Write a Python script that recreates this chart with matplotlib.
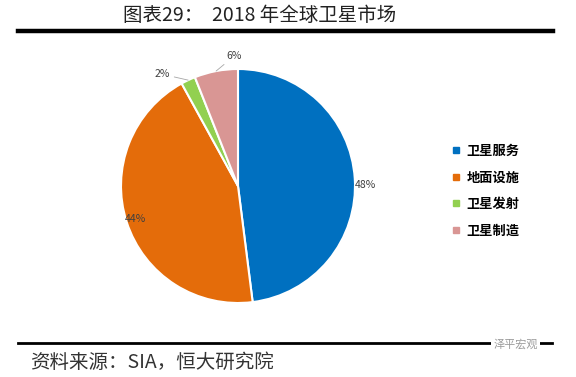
import matplotlib
matplotlib.use("Agg")
import matplotlib.pyplot as plt
import numpy as np

plt.rcParams["font.family"] = ["Noto Sans CJK SC", "DejaVu Sans"]

# ---- data ----
categories = ["卫星服务", "地面设施", "卫星发射", "卫星制造"]
shares = [48, 44, 2, 6]
colors = ["#0070C0", "#E46C0A", "#92D050", "#D99694"]
title = "图表29：  2018 年全球卫星市场"
source = "资料来源：SIA，恒大研究院"

fig = plt.figure(figsize=(5.76, 3.77), dpi=100)
W, H = 576, 377

# pie axes: centre (238, 186) px, radius 117 px
cx, cy, r = 238, 186, 117
ax = fig.add_axes([(cx - r) / W, (H - cy - r) / H, 2 * r / W, 2 * r / H])
wedges, _ = ax.pie(shares, colors=colors, startangle=90, counterclock=False,
                   wedgeprops=dict(edgecolor="white", linewidth=1.5))
ax.set_xlim(-1, 1)
ax.set_ylim(-1, 1)
ax.set_aspect("equal")
ax.axis("off")

# labels: 48 / 44 sit on the rim, 2 / 6 are pulled out with leader lines
lab_col = "#404040"
for i, w in enumerate(wedges):
    mid = np.deg2rad((w.theta1 + w.theta2) / 2)
    ex, ey = np.cos(mid), np.sin(mid)
    txt = f"{shares[i]}%"
    if i == 0:
        ax.text(1.09 * ex, 1.09 * ey - 0.06, txt, ha="center", va="center",
                fontsize=7.5, color=lab_col, clip_on=False)
    elif i == 1:
        ax.text(0.92 * ex, 0.92 * ey, txt, ha="center", va="center",
                fontsize=7.5, color=lab_col, clip_on=False)
    elif i == 2:
        ax.annotate(txt, xy=(ex, ey), xytext=(-0.58, 0.955), ha="right", va="center",
                    fontsize=7.5, color=lab_col, annotation_clip=False,
                    arrowprops=dict(arrowstyle="-", color="#a6a6a6", lw=0.6,
                                    shrinkA=1, shrinkB=0))
    else:
        ax.annotate(txt, xy=(ex, ey), xytext=(-0.03, 1.07), ha="center", va="bottom",
                    fontsize=7.5, color=lab_col, annotation_clip=False,
                    arrowprops=dict(arrowstyle="-", color="#a6a6a6", lw=0.6,
                                    shrinkA=1, shrinkB=0))

# legend
handles = [plt.Line2D([], [], marker="s", ls="", ms=4, color=c) for c in colors]
fig.legend(handles, categories, loc="upper left", bbox_to_anchor=(439 / W, 1 - 132 / H),
           frameon=False, handletextpad=0.4, labelspacing=0.95,
           handlelength=0.8, prop=dict(size=9.5, weight="bold"))

# title and rules
fig.text(260 / W, 1 - 15 / H, title, ha="center", va="center", fontsize=14,
         color="#222222")
fig.add_artist(plt.Line2D([18 / W, 553 / W], [1 - 31 / H] * 2, color="black", lw=3.2))
fig.add_artist(plt.Line2D([18 / W, 552 / W], [1 - 343 / H] * 2, color="black", lw=2))

# footer
fig.text(30 / W, 1 - 362 / H, source, ha="left", va="center", fontsize=14,
         color="#333333", style="italic")
fig.text(538 / W, 1 - 344 / H, "泽平宏观", ha="right", va="center", fontsize=8,
         color="#9a9a9a", style="italic",
         bbox=dict(facecolor="white", edgecolor="none", pad=1.5))

fig.savefig("out.png", dpi=100)
